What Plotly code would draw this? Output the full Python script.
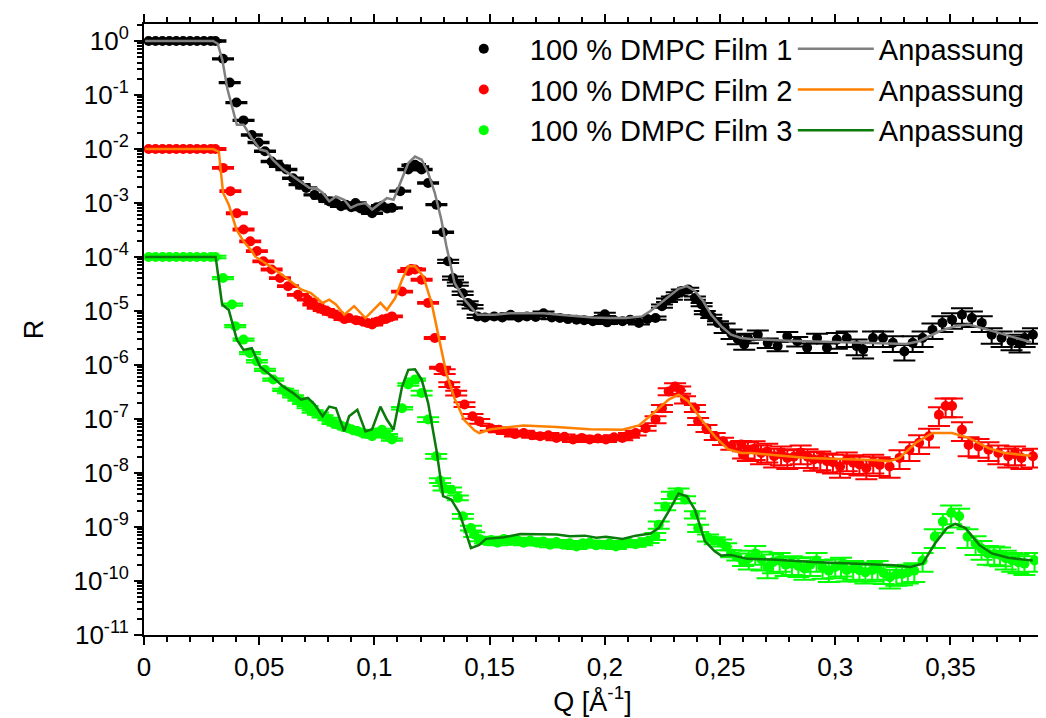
import numpy as np
import plotly.graph_objects as go

# ---------------- data ----------------
q_film1 = [0.002, 0.005, 0.008, 0.011, 0.014, 0.017, 0.020, 0.023, 0.026, 0.029,
           0.031, 0.0343, 0.0372, 0.0401, 0.0432, 0.0468, 0.0497, 0.0525, 0.0554, 0.0590,
           0.0618, 0.0647, 0.0675, 0.0704, 0.0740, 0.0775, 0.0805, 0.0830, 0.0855, 0.0876,
           0.0900, 0.0918, 0.0940, 0.0960, 0.0990, 0.1010, 0.1033, 0.1055, 0.1076, 0.1112,
           0.1147, 0.1165, 0.1176, 0.1190, 0.1205, 0.1233, 0.1269, 0.1298, 0.1320, 0.1341,
           0.1362, 0.1383, 0.1405, 0.1426, 0.1448, 0.1480, 0.1520, 0.1555, 0.1591, 0.1625,
           0.1662, 0.1700, 0.1734, 0.1770, 0.1805, 0.1840, 0.1877, 0.1910, 0.1948, 0.1980,
           0.2000, 0.2010, 0.2040, 0.2077, 0.2110, 0.2148, 0.2185, 0.2220, 0.2248, 0.2270,
           0.2291, 0.2312, 0.2334, 0.2362, 0.2391, 0.2420, 0.2434, 0.2462, 0.2491, 0.2520,
           0.2550, 0.2577, 0.2605, 0.2621, 0.2664, 0.2707, 0.2750, 0.2792, 0.2835, 0.2878,
           0.2921, 0.2964, 0.3007, 0.3050, 0.3093, 0.3121, 0.3164, 0.3207, 0.3250, 0.3300,
           0.3336, 0.3379, 0.3422, 0.3465, 0.3507, 0.3550, 0.3593, 0.3636, 0.3679, 0.3722,
           0.3765, 0.3800, 0.3822, 0.3858]
log10R_film1 = [0, 0, 0, 0, 0, 0, 0, 0, 0, 0,
                0.0, -0.33, -0.77, -1.14, -1.47, -1.74, -1.88, -2.04, -2.23, -2.32,
                -2.38, -2.54, -2.66, -2.72, -2.85, -2.91, -2.97, -3.00, -3.06, -3.03,
                -3.08, -3.00, -3.10, -3.12, -3.19, -3.08, -3.05, -3.10, -3.09, -2.78,
                -2.38, -2.30, -2.29, -2.33, -2.38, -2.63, -3.03, -3.54, -4.08, -4.39,
                -4.50, -4.67, -4.85, -4.92, -5.10, -5.12, -5.10, -5.12, -5.07, -5.12,
                -5.10, -5.11, -5.04, -5.12, -5.13, -5.15, -5.16, -5.17, -5.19, -5.14,
                -5.06, -5.21, -5.17, -5.19, -5.16, -5.22, -5.15, -5.13, -4.91, -4.80,
                -4.76, -4.68, -4.63, -4.60, -4.76, -4.88, -5.03, -5.10, -5.22, -5.31,
                -5.42, -5.52, -5.62, -5.50, -5.44, -5.59, -5.65, -5.47, -5.56, -5.68,
                -5.50, -5.68, -5.53, -5.50, -5.65, -5.71, -5.50, -5.50, -5.59, -5.75,
                -5.59, -5.50, -5.35, -5.22, -5.16, -5.07, -5.13, -5.22, -5.44, -5.50,
                -5.56, -5.60, -5.50, -5.44]

q_film2 = [0.002, 0.005, 0.008, 0.011, 0.014, 0.017, 0.020, 0.023, 0.026, 0.029,
           0.031, 0.0343, 0.0375, 0.0403, 0.0432, 0.0461, 0.0490, 0.0518, 0.0554, 0.0590,
           0.0625, 0.0668, 0.0711, 0.0735, 0.0754, 0.0780, 0.0797, 0.0820, 0.0847, 0.0870,
           0.0890, 0.0920, 0.0947, 0.0970, 0.0990, 0.1010, 0.1033, 0.1055, 0.1076, 0.1120,
           0.1147, 0.1160, 0.1176, 0.1205, 0.1233, 0.1262, 0.1285, 0.1305, 0.1325, 0.1355,
           0.1391, 0.1426, 0.1455, 0.1505, 0.1540, 0.1576, 0.1610, 0.1648, 0.1685, 0.1719,
           0.1755, 0.1790, 0.1825, 0.1862, 0.1900, 0.1934, 0.1970, 0.2005, 0.2040, 0.2076,
           0.2105, 0.2134, 0.2177, 0.2220, 0.2248, 0.2277, 0.2305, 0.2327, 0.2348, 0.2391,
           0.2405, 0.2441, 0.2477, 0.2513, 0.2549, 0.2592, 0.2600, 0.2621, 0.2650, 0.2678,
           0.2705, 0.2735, 0.2765, 0.2792, 0.2820, 0.2850, 0.2880, 0.2907, 0.2935, 0.2964,
           0.2990, 0.3021, 0.3050, 0.3078, 0.3105, 0.3135, 0.3165, 0.3193, 0.3236, 0.3279,
           0.3322, 0.3364, 0.3407, 0.3450, 0.3479, 0.3507, 0.3550, 0.3579, 0.3622, 0.3665,
           0.3708, 0.3751, 0.3780, 0.3808, 0.3858]
log10R_film2 = [-2.0, -2.0, -2.0, -2.0, -2.0, -2.0, -2.0, -2.0, -2.0, -2.0,
                -2.0, -2.35, -2.78, -3.19, -3.49, -3.71, -3.89, -4.08, -4.23, -4.39,
                -4.54, -4.70, -4.79, -4.88, -4.94, -4.98, -5.01, -5.05, -5.10, -5.15,
                -5.13, -5.17, -5.19, -5.22, -5.25, -5.20, -5.16, -5.14, -5.10, -4.64,
                -4.26, -4.22, -4.23, -4.42, -4.85, -5.50, -6.05, -6.12, -6.36, -6.52,
                -6.73, -6.95, -7.04, -7.17, -7.20, -7.23, -7.28, -7.26, -7.30, -7.32,
                -7.30, -7.35, -7.33, -7.38, -7.35, -7.38, -7.36, -7.38, -7.34, -7.35,
                -7.30, -7.26, -7.17, -7.01, -6.80, -6.49, -6.40, -6.46, -6.64, -6.80,
                -7.04, -7.17, -7.32, -7.41, -7.50, -7.47, -7.66, -7.57, -7.55, -7.63,
                -7.60, -7.69, -7.65, -7.72, -7.70, -7.63, -7.70, -7.75, -7.74, -7.78,
                -7.80, -7.88, -7.76, -7.81, -7.84, -7.91, -7.80, -7.85, -7.88, -7.72,
                -7.57, -7.44, -7.32, -6.92, -6.76, -6.76, -7.20, -7.48, -7.51, -7.57,
                -7.63, -7.69, -7.65, -7.72, -7.69]

q_film3 = [0.002, 0.005, 0.008, 0.011, 0.014, 0.017, 0.020, 0.023, 0.026, 0.029,
           0.031, 0.0343, 0.0382, 0.0396, 0.0432, 0.0460, 0.0490, 0.0525, 0.0561, 0.0604,
           0.0625, 0.0647, 0.0670, 0.0690, 0.0710, 0.0732, 0.0755, 0.0775, 0.0800, 0.0818,
           0.0840, 0.0861, 0.0885, 0.0904, 0.0925, 0.0947, 0.0970, 0.0990, 0.1010, 0.1033,
           0.1055, 0.1076, 0.1120, 0.1147, 0.1176, 0.1205, 0.1233, 0.1268, 0.1285, 0.1300,
           0.1333, 0.1362, 0.1384, 0.1419, 0.1433, 0.1455, 0.1480, 0.1507, 0.1534, 0.1562,
           0.1591, 0.1620, 0.1648, 0.1677, 0.1705, 0.1733, 0.1762, 0.1790, 0.1819, 0.1848,
           0.1877, 0.1905, 0.1934, 0.1962, 0.1991, 0.2020, 0.2048, 0.2077, 0.2105, 0.2134,
           0.2162, 0.2190, 0.2219, 0.2234, 0.2262, 0.2291, 0.2320, 0.2348, 0.2391, 0.2405,
           0.2448, 0.2477, 0.2505, 0.2527, 0.2548, 0.2575, 0.2600, 0.2625, 0.2653, 0.2680,
           0.2706, 0.2730, 0.2759, 0.2785, 0.2812, 0.2840, 0.2866, 0.2892, 0.2919, 0.2945,
           0.2972, 0.3000, 0.3025, 0.3050, 0.3078, 0.3105, 0.3131, 0.3160, 0.3184, 0.3210,
           0.3237, 0.3265, 0.3290, 0.3315, 0.3343, 0.3379, 0.3432, 0.3467, 0.3503, 0.3538,
           0.3574, 0.3609, 0.3635, 0.3662, 0.3690, 0.3715, 0.3740, 0.3768, 0.3795, 0.3821,
           0.3865]
log10R_film3 = [-4.0, -4.0, -4.0, -4.0, -4.0, -4.0, -4.0, -4.0, -4.0, -4.0,
                -4.0, -4.39, -4.88, -5.28, -5.53, -5.78, -5.93, -6.09, -6.27, -6.46,
                -6.50, -6.58, -6.64, -6.70, -6.78, -6.86, -6.90, -6.95, -7.00, -7.07,
                -7.10, -7.14, -7.17, -7.20, -7.22, -7.26, -7.28, -7.32, -7.25, -7.20,
                -7.30, -7.38, -6.80, -6.36, -6.27, -6.52, -7.01, -7.69, -8.14, -8.28,
                -8.31, -8.46, -8.80, -9.02, -9.14, -9.22, -9.26, -9.24, -9.29, -9.22,
                -9.26, -9.24, -9.29, -9.25, -9.29, -9.27, -9.33, -9.28, -9.33, -9.30,
                -9.36, -9.30, -9.29, -9.34, -9.33, -9.30, -9.36, -9.33, -9.29, -9.32,
                -9.29, -9.25, -9.17, -8.96, -8.62, -8.41, -8.35, -8.49, -8.77, -9.02,
                -9.20, -9.25, -9.29, -9.36, -9.49, -9.55, -9.65, -9.58, -9.49, -9.60,
                -9.74, -9.65, -9.62, -9.70, -9.68, -9.72, -9.77, -9.70, -9.62, -9.75,
                -9.81, -9.74, -9.71, -9.80, -9.77, -9.80, -9.84, -9.80, -9.77, -9.85,
                -9.93, -9.88, -9.87, -9.84, -9.81, -9.62, -9.18, -8.90, -8.74, -8.80,
                -9.18, -9.31, -9.40, -9.49, -9.50, -9.52, -9.58, -9.62, -9.65, -9.68,
                -9.62]

# relative error bands (upper Q edges and relative error levels)
err_edges_film1 = [0.13, 0.25, 0.30]
err_rel_film1 = [0.03, 0.07, 0.20, 0.32]
err_edges_film2 = [0.13, 0.22, 0.26]
err_rel_film2 = [0.04, 0.10, 0.15, 0.38]
err_edges_film3 = [0.12, 0.22, 0.26]
err_rel_film3 = [0.05, 0.10, 0.15, 0.38]

q_fit1 = [0.0005, 0.0300, 0.0320, 0.0340, 0.0362, 0.0391, 0.0403, 0.0432, 0.0468, 0.0504,
          0.0532, 0.0560, 0.0604, 0.0647, 0.0690, 0.0718, 0.0747, 0.0775, 0.0804, 0.0833,
          0.0869, 0.0897, 0.0926, 0.0961, 0.0990, 0.1019, 0.1054, 0.1083, 0.1119, 0.1147,
          0.1176, 0.1205, 0.1233, 0.1262, 0.1290, 0.1312, 0.1348, 0.1391, 0.1448, 0.1520,
          0.1591, 0.1662, 0.1734, 0.1805, 0.1877, 0.1948, 0.2019, 0.2091, 0.2162, 0.2198,
          0.2234, 0.2277, 0.2320, 0.2356, 0.2391, 0.2427, 0.2462, 0.2505, 0.2548, 0.2591,
          0.2634, 0.2800, 0.3020, 0.3307, 0.3364, 0.3450, 0.3521, 0.3579, 0.3665, 0.3765,
          0.3850]
log10R_fit1 = [0.0, 0.0, -0.05, -0.35, -0.89, -1.33, -1.55, -1.55, -1.80, -2.01,
               -2.04, -2.20, -2.38, -2.51, -2.63, -2.72, -2.72, -2.81, -2.97, -2.88,
               -2.94, -3.09, -3.03, -3.00, -3.12, -3.03, -2.91, -2.94, -2.54, -2.26,
               -2.14, -2.20, -2.44, -2.81, -3.30, -3.79, -4.48, -4.79, -5.07, -5.07,
               -5.04, -5.04, -5.04, -5.07, -5.10, -5.12, -5.13, -5.13, -5.10, -5.00,
               -4.88, -4.73, -4.59, -4.54, -4.63, -4.82, -5.07, -5.28, -5.44, -5.50,
               -5.52, -5.55, -5.58, -5.61, -5.56, -5.38, -5.28, -5.25, -5.35, -5.48,
               -5.58]

q_fit2 = [0.0005, 0.0300, 0.0325, 0.0343, 0.0368, 0.0401, 0.0432, 0.0468, 0.0482, 0.0547,
          0.0618, 0.0682, 0.0725, 0.0775, 0.0804, 0.0833, 0.0869, 0.0912, 0.0961, 0.1026,
          0.1054, 0.1090, 0.1120, 0.1147, 0.1176, 0.1212, 0.1248, 0.1276, 0.1312, 0.1348,
          0.1390, 0.1434, 0.1455, 0.1505, 0.1648, 0.1790, 0.1934, 0.2076, 0.2148, 0.2219,
          0.2277, 0.2320, 0.2362, 0.2419, 0.2477, 0.2534, 0.2592, 0.2635, 0.2878, 0.3164,
          0.3236, 0.3279, 0.3350, 0.3422, 0.3507, 0.3579, 0.3665, 0.3736, 0.3850]
log10R_fit2 = [-2.0, -2.0, -2.05, -2.81, -3.03, -3.49, -3.71, -3.89, -3.99, -4.17,
               -4.39, -4.60, -4.67, -4.85, -4.79, -4.88, -5.07, -4.91, -5.13, -4.85,
               -4.98, -4.76, -4.42, -4.17, -4.17, -4.36, -4.85, -5.41, -6.15, -6.62,
               -7.02, -7.21, -7.26, -7.19, -7.12, -7.15, -7.19, -7.20, -7.12, -6.86,
               -6.64, -6.55, -6.67, -7.01, -7.32, -7.56, -7.63, -7.63, -7.72, -7.76,
               -7.78, -7.72, -7.44, -7.26, -7.26, -7.35, -7.54, -7.63, -7.68]

q_fit3 = [0.0005, 0.0311, 0.0339, 0.0368, 0.0403, 0.0432, 0.0468, 0.0504, 0.0547, 0.0604,
          0.0647, 0.0682, 0.0711, 0.0740, 0.0775, 0.0804, 0.0833, 0.0869, 0.0890, 0.0926,
          0.0961, 0.0990, 0.1026, 0.1054, 0.1083, 0.1120, 0.1147, 0.1176, 0.1205, 0.1233,
          0.1269, 0.1298, 0.1333, 0.1369, 0.1419, 0.1455, 0.1484, 0.1562, 0.1633, 0.1705,
          0.1791, 0.1848, 0.1913, 0.1963, 0.2005, 0.2077, 0.2134, 0.2198, 0.2234, 0.2277,
          0.2320, 0.2356, 0.2391, 0.2434, 0.2477, 0.2505, 0.2548, 0.2619, 0.2725, 0.2902,
          0.3078, 0.3255, 0.3326, 0.3379, 0.3432, 0.3485, 0.3521, 0.3565, 0.3627, 0.3680,
          0.3750, 0.3857]
log10R_fit3 = [-4.0, -4.0, -4.88, -4.98, -5.53, -5.72, -5.69, -6.03, -6.18, -6.40,
               -6.52, -6.64, -6.61, -6.73, -6.95, -6.77, -6.80, -7.23, -6.95, -6.83,
               -7.23, -7.19, -6.77, -7.01, -7.20, -6.40, -6.09, -6.08, -6.27, -6.70,
               -7.57, -8.43, -8.49, -8.74, -9.39, -9.33, -9.22, -9.19, -9.13, -9.14,
               -9.14, -9.17, -9.16, -9.20, -9.18, -9.22, -9.16, -9.12, -9.02, -8.71,
               -8.38, -8.43, -8.68, -9.26, -9.45, -9.53, -9.52, -9.59, -9.60, -9.65,
               -9.68, -9.71, -9.74, -9.68, -9.31, -9.02, -8.94, -9.02, -9.34, -9.49,
               -9.57, -9.62]

series_names = ["100 % DMPC Film 1", "100 % DMPC Film 2", "100 % DMPC Film 3"]
fit_name = "Anpassung"
y_tick_exponents = list(range(0, -12, -1))

# ---------------- figure ----------------
FONT = "Liberation Sans, Arial, sans-serif"
data_colors = ["#000000", "#FF0000", "#00FF00"]
fit_colors = ["#808080", "#FF8000", "#0A7A0A"]

measured = [(q_film1, log10R_film1, err_edges_film1, err_rel_film1),
            (q_film2, log10R_film2, err_edges_film2, err_rel_film2),
            (q_film3, log10R_film3, err_edges_film3, err_rel_film3)]
fits = [(q_fit1, log10R_fit1), (q_fit2, log10R_fit2), (q_fit3, log10R_fit3)]

fig = go.Figure()
for (q, lr, edges, rels), name, col in zip(measured, series_names, data_colors):
    assert len(q) == len(lr)
    q = np.array(q)
    r = 10.0 ** np.array(lr)
    rel = np.array(rels)[np.searchsorted(edges, q)]
    fig.add_trace(go.Scatter(
        x=q, y=r, mode="markers", name=name, legend="legend",
        marker=dict(color=col, size=10, symbol="circle", line=dict(width=0)),
        error_y=dict(type="data", array=r * rel, visible=True, color=col,
                     thickness=2, width=11),
    ))
for (q, lr), col in zip(fits, fit_colors):
    assert len(q) == len(lr)
    fig.add_trace(go.Scatter(
        x=q, y=10.0 ** np.array(lr), mode="lines", name=fit_name, legend="legend2",
        line=dict(color=col, width=2.5),
    ))

axis_common = dict(showline=True, linecolor="black", linewidth=2, mirror="allticks",
                   ticks="outside", tickcolor="black", tickwidth=1.5, ticklen=8,
                   showgrid=False, zeroline=False,
                   tickfont=dict(family=FONT, size=26, color="black"))

fig.update_xaxes(range=[0, 0.3893], tick0=0, dtick=0.05,
                 minor=dict(dtick=0.01, ticks="outside", ticklen=5, tickcolor="black", showgrid=False),
                 title=dict(text="Q [Å<sup>-1</sup>]", font=dict(family=FONT, size=27, color="black"),
                            standoff=0),
                 **axis_common)
fig.update_yaxes(type="log", range=[-11, 0.315],
                 tickmode="array",
                 tickvals=[10.0 ** e for e in y_tick_exponents],
                 ticktext=["10<sup>%d</sup>" % e for e in y_tick_exponents],
                 minor=dict(dtick="D1", ticks="outside", ticklen=5, tickcolor="black", showgrid=False),
                 title=dict(text="R", font=dict(family=FONT, size=27, color="black"), standoff=22),
                 **axis_common)

leg_common = dict(font=dict(family=FONT, size=29, color="black"), bgcolor="rgba(0,0,0,0)",
                  borderwidth=0, xanchor="left", yanchor="top", tracegroupgap=0)
fig.update_layout(
    width=1046, height=718,
    margin=dict(l=136, r=3, t=16, b=91),
    plot_bgcolor="white", paper_bgcolor="white",
    separators=",.",
    showlegend=True,
    legend=dict(x=0.3275, y=1.001, itemwidth=82, **leg_common),
    legend2=dict(x=0.7233, y=1.001, itemwidth=76, **leg_common),
    font=dict(family=FONT, color="black"),
)

fig.write_html("out.html")
